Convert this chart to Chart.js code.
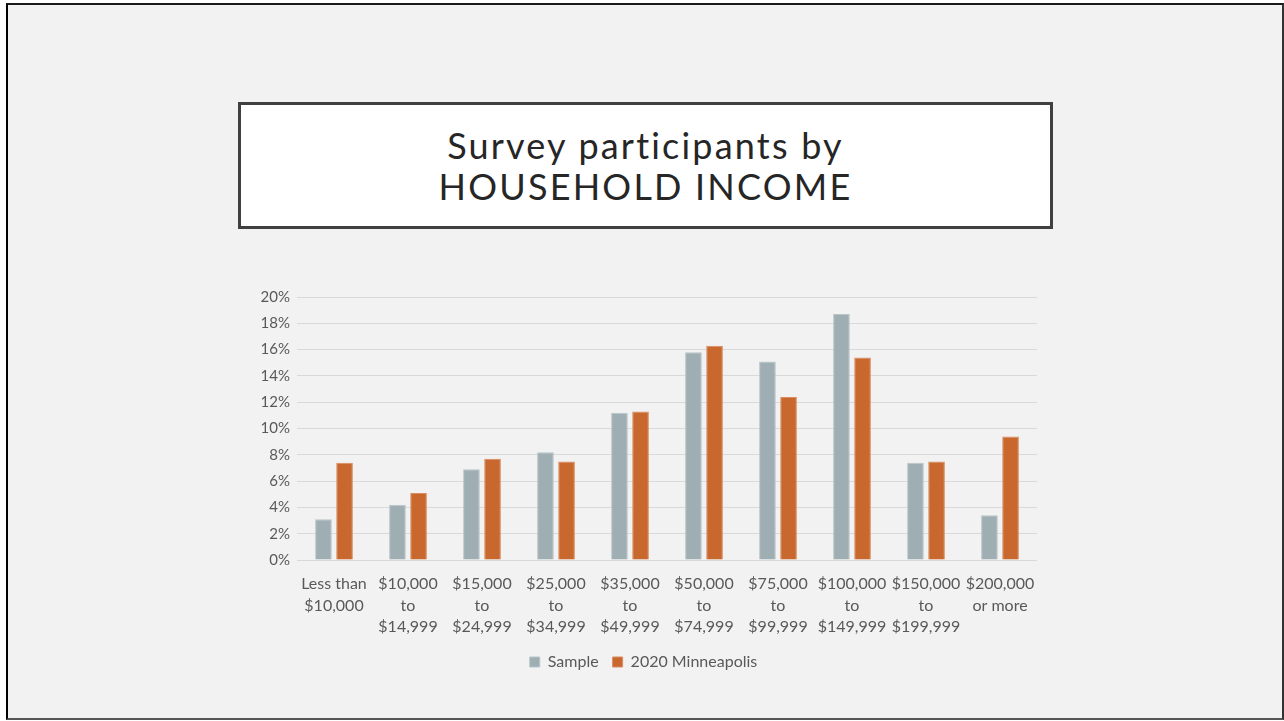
<!DOCTYPE html>
<html>
<head>
<meta charset="utf-8">
<title>Survey participants by household income</title>
<script src="https://cdn.jsdelivr.net/npm/chart.js@4.4.1/dist/chart.umd.min.js"></script>
<style>
    html, body {
        margin: 0;
        padding: 0;
        width: 1284px;
        height: 721px;
        background: #ffffff;
        overflow: hidden;
    }
    .slide {
        position: absolute;
        left: 6px;
        top: 3px;
        width: 1274px;
        height: 713px;
        background: #f2f2f2;
        border-top: 2px solid #1a1a1a;
        border-left: 2px solid #000000;
        border-right: 2px solid #333333;
        border-bottom: 2px solid #555555;
    }
    .title-box {
        position: absolute;
        left: 238px;
        top: 102px;
        width: 809px;
        height: 121px;
        background: #ffffff;
        border: 3px solid #404040;
        display: flex;
        align-items: center;
        justify-content: center;
        text-align: center;
        font-family: Lato, "Open Sans", sans-serif;
        font-size: 36px;
        line-height: 41px;
        letter-spacing: 2.2px;
        color: #262626;
    }
    .chart-wrap {
        position: absolute;
        left: 250px;
        top: 281px;
        width: 800px;
        height: 399px;
    }
</style>
</head>
<body>
<div class="slide"></div>
<div class="title-box"><div>Survey participants by<br>HOUSEHOLD INCOME</div></div>
<div class="chart-wrap"><canvas id="incomeChart"></canvas></div>

<script>
    // income brackets, each label split into lines
    const categories = [
        ["Less than", "$10,000"],
        ["$10,000", "to", "$14,999"],
        ["$15,000", "to", "$24,999"],
        ["$25,000", "to", "$34,999"],
        ["$35,000", "to", "$49,999"],
        ["$50,000", "to", "$74,999"],
        ["$75,000", "to", "$99,999"],
        ["$100,000", "to", "$149,999"],
        ["$150,000", "to", "$199,999"],
        ["$200,000", "or more"]
    ];

    // percent of participants
    const sampleValues = [3.1, 4.2, 6.9, 8.2, 11.2, 15.8, 15.1, 18.7, 7.4, 3.4];
    const minneapolisValues = [7.4, 5.1, 7.7, 7.5, 11.3, 16.3, 12.4, 15.4, 7.5, 9.4];

    const seriesNames = ["Sample", "2020 Minneapolis"];
    const yTicks = [0, 2, 4, 6, 8, 10, 12, 14, 16, 18, 20];

    const labelFont = { family: "Lato, 'Open Sans', sans-serif", size: 16 };

    const config = {
        type: 'bar',
        data: {
            labels: categories,
            datasets: [
                {
                    label: seriesNames[0],
                    data: sampleValues,
                    backgroundColor: '#9eaeb3',
                    borderColor: '#b8c5c9',
                    borderWidth: 1,
                    categoryPercentage: 0.57,
                    barPercentage: 0.79
                },
                {
                    label: seriesNames[1],
                    data: minneapolisValues,
                    backgroundColor: '#c8672e',
                    borderColor: '#dc8b5e',
                    borderWidth: 1,
                    categoryPercentage: 0.57,
                    barPercentage: 0.79
                }
            ]
        },
        options: {
            responsive: true,
            maintainAspectRatio: false,
            animation: false,
            layout: {
                padding: { top: 4, right: 13, left: 0, bottom: 0 }
            },
            plugins: {
                tooltip: { enabled: false },
                legend: {
                    position: 'bottom',
                    labels: {
                        boxWidth: 10,
                        boxHeight: 10,
                        padding: 14,
                        color: '#595959',
                        font: labelFont
                    }
                }
            },
            scales: {
                x: {
                    grid: { display: false },
                    border: { display: false },
                    ticks: {
                        color: '#595959',
                        font: { ...labelFont, lineHeight: 1.35 },
                        padding: 5,
                        maxRotation: 0,
                        autoSkip: false
                    },
                    afterFit: scale => { scale.height = 80; }
                },
                y: {
                    min: 0,
                    max: 20,
                    afterBuildTicks: scale => {
                        scale.ticks = yTicks.map(v => ({ value: v }));
                    },
                    grid: {
                        color: '#d9d9d9',
                        lineWidth: 1,
                        drawTicks: false
                    },
                    border: { display: false },
                    ticks: {
                        color: '#595959',
                        font: { ...labelFont, size: 15 },
                        padding: 7,
                        callback: value => value + '%'
                    },
                    afterFit: scale => { scale.width = 47; }
                }
            }
        }
    };

    new Chart(document.getElementById('incomeChart'), config);
</script>
</body>
</html>
